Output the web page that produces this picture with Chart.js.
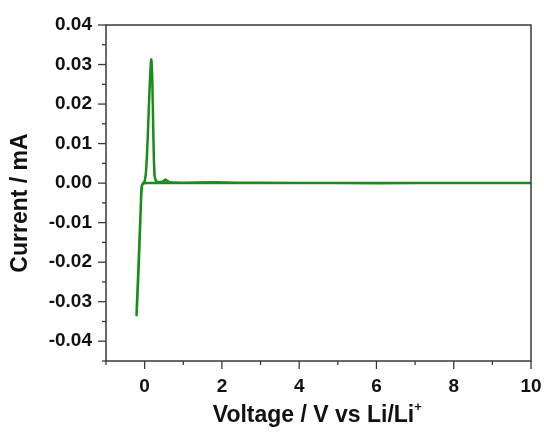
<!DOCTYPE html>
<html>
<head>
<meta charset="utf-8">
<script src="https://cdn.jsdelivr.net/npm/chart.js@4"></script>
<style>
  html, body { margin: 0; padding: 0; background: #fff; }
  #cv { display: block; }
</style>
</head>
<body>
<canvas id="cv" width="544" height="432"></canvas>
<script>
// cyclic voltammogram (V vs Li/Li+, mA)
var voltage = [10, 7, 5, 3, 2, 1, 0.5, 0.2, 0.05, -0.05, -0.08, -0.09, -0.11, -0.14, -0.17, -0.19, -0.21,
               -0.2, -0.17, -0.14, -0.11, -0.09, -0.07, -0.04, 0, 0.04, 0.08, 0.11, 0.14, 0.16, 0.17, 0.18,
               0.2, 0.22, 0.24, 0.26, 0.29, 0.34, 0.42, 0.5, 0.54, 0.58, 0.65, 1, 1.8, 2.4, 3, 5, 7, 10];
var current = [0.0000, 0.0000, 0.0000, 0.0000, 0.0000, 0.0000, 0.0000, 0.0000, 0.0000, -0.0002, -0.0010, -0.0030, -0.0090, -0.0175, -0.0250, -0.0295, -0.0334,
               -0.0305, -0.0235, -0.0160, -0.0085, -0.0035, -0.0008, 0.0000, 0.0004, 0.0035, 0.0115, 0.0195, 0.0265, 0.0302, 0.0313, 0.0307,
               0.0255, 0.0150, 0.0060, 0.0018, 0.0006, 0.0003, 0.0003, 0.0006, 0.0009, 0.0006, 0.0002, 0.0001, 0.0002, 0.0001, 0.0001, 0.0000, 0.0000, 0.0000];

var xTicks = [0, 2, 4, 6, 8, 10];
var yTicks = [-0.04, -0.03, -0.02, -0.01, 0.00, 0.01, 0.02, 0.03, 0.04];
var xTitle = 'Voltage / V vs Li/Li';
var yTitle = 'Current / mA';

var points = voltage.map(function(v, i) { return { x: v, y: current[i] }; });

var FONT = '"Liberation Sans", Arial, sans-serif';
var AXIS = '#3a3a3a';

// frame, major/minor ticks and axis titles, drawn like the original plot
var framePlugin = {
    id: 'frame',
    afterDraw: function(chart) {
        var ctx = chart.ctx;
        var a = chart.chartArea;
        var xs = chart.scales.x, ys = chart.scales.y;
        ctx.save();
        ctx.strokeStyle = AXIS;
        ctx.lineWidth = 1.5;
        ctx.strokeRect(a.left, a.top, a.right - a.left, a.bottom - a.top);

        ctx.lineWidth = 1.3;
        for (var k = -9; k <= 8; k++) {
            var yv = k * 0.005;
            var py = ys.getPixelForValue(yv);
            var len = (k % 2 === 0) ? 8 : 4;
            ctx.beginPath();
            ctx.moveTo(a.left, py);
            ctx.lineTo(a.left - len, py);
            ctx.stroke();
        }
        for (var v = -1; v <= 10; v++) {
            var px = xs.getPixelForValue(v);
            var l2 = (v % 2 === 0) ? 8 : 4;
            ctx.beginPath();
            ctx.moveTo(px, a.bottom);
            ctx.lineTo(px, a.bottom + l2);
            ctx.stroke();
        }

        ctx.fillStyle = '#111';
        ctx.font = 'bold 23px ' + FONT;
        ctx.textBaseline = 'middle';
        ctx.textAlign = 'center';
        ctx.save();
        ctx.translate(21, (a.top + a.bottom) / 2 + 10);
        ctx.rotate(-Math.PI / 2);
        ctx.fillText(yTitle, 0, 0);
        ctx.restore();

        var w = ctx.measureText(xTitle).width;
        var cx = (a.left + a.right) / 2;
        ctx.textAlign = 'left';
        ctx.fillText(xTitle, cx - w / 2 - 5, 416);
        ctx.font = 'bold 13px ' + FONT;
        ctx.fillText('+', cx + w / 2 - 5, 407);
        ctx.restore();
    }
};

var chart = new Chart(document.getElementById('cv').getContext('2d'), {
    type: 'scatter',
    data: {
        datasets: [{
            data: points,
            showLine: true,
            borderColor: '#1a8c1a',
            borderWidth: 2.5,
            pointRadius: 0,
            tension: 0.15
        }]
    },
    options: {
        responsive: false,
        animation: false,
        layout: { padding: { top: 25, right: 13, left: 0, bottom: 0 } },
        plugins: { legend: { display: false }, tooltip: { enabled: false } },
        scales: {
            x: {
                type: 'linear',
                min: -1,
                max: 10,
                grid: { display: false, drawTicks: false },
                border: { display: false },
                afterFit: function(scale) {
                    scale.height = 71;
                    scale.paddingLeft = 0;
                    scale.paddingRight = 0;
                },
                afterBuildTicks: function(scale) {
                    scale.ticks = xTicks.map(function(v) { return { value: v }; });
                },
                ticks: {
                    color: '#111',
                    padding: 14,
                    font: { family: FONT, size: 19, weight: 'bold' },
                    maxRotation: 0,
                    callback: function(v) { return String(v); }
                }
            },
            y: {
                type: 'linear',
                min: -0.045,
                max: 0.04,
                grid: { display: false, drawTicks: false },
                border: { display: false },
                afterFit: function(scale) {
                    scale.width = 106;
                    scale.paddingTop = 0;
                    scale.paddingBottom = 0;
                },
                afterBuildTicks: function(scale) {
                    scale.ticks = yTicks.map(function(v) { return { value: v }; });
                },
                ticks: {
                    color: '#111',
                    padding: 14,
                    font: { family: FONT, size: 19, weight: 'bold' },
                    callback: function(v) {
                        if (Math.abs(v) < 1e-9) return '0.00';
                        return v.toFixed(2);
                    }
                }
            }
        }
    },
    plugins: [framePlugin]
});
</script>
</body>
</html>
